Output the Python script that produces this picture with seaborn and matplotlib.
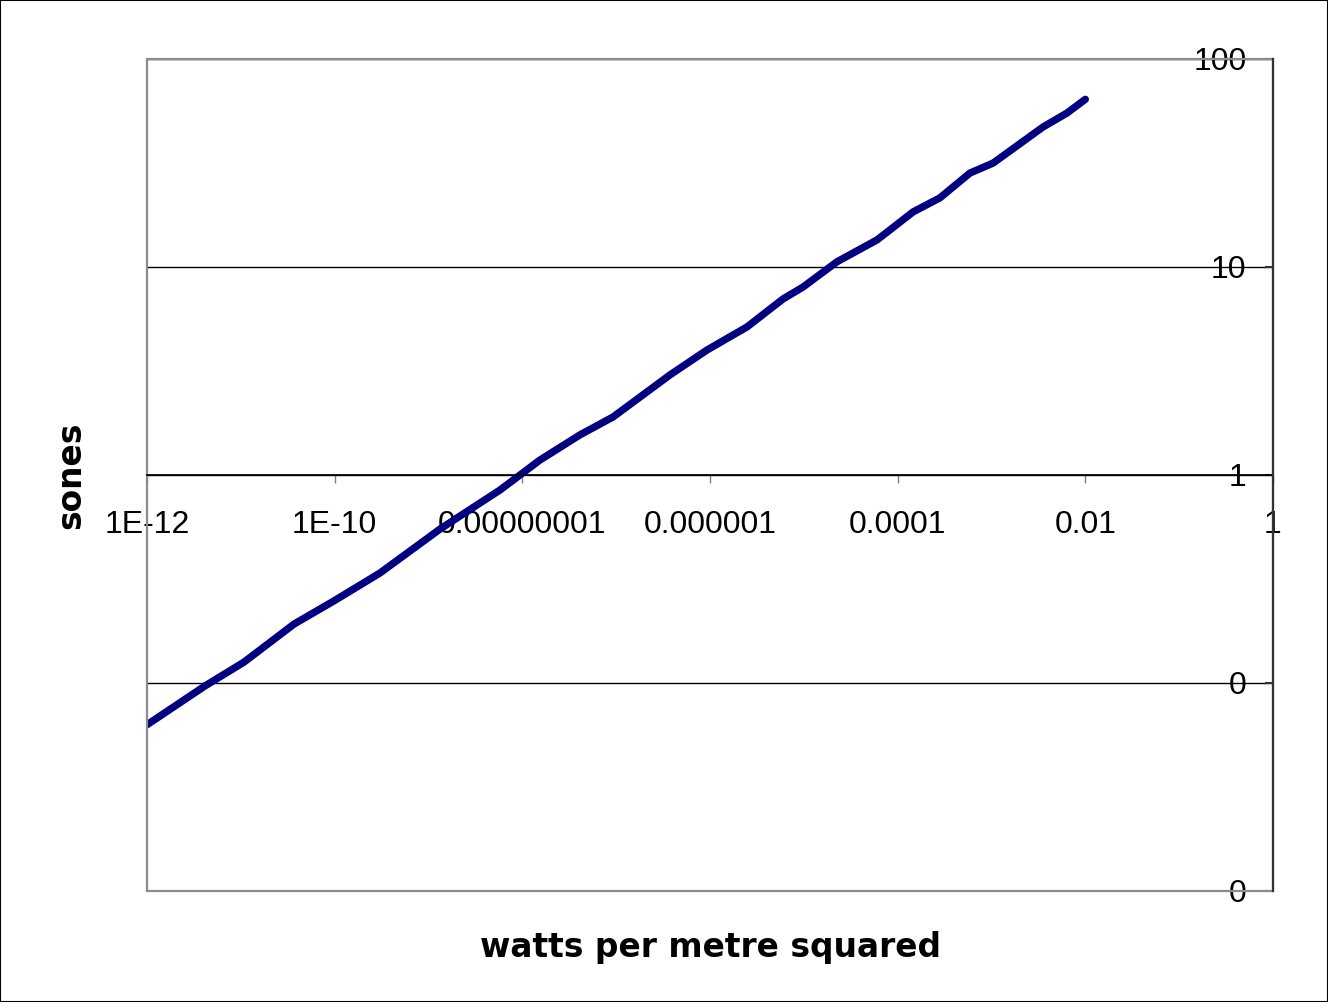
import matplotlib
matplotlib.use("Agg")
import matplotlib.pyplot as plt
from matplotlib.patches import Rectangle
from matplotlib.ticker import NullLocator
import pandas as pd
import seaborn as sns

# Data (log-log)
intensity = [1e-12, 4.15e-12, 1.08e-11, 3.69e-11, 9.8e-11, 3.04e-10, 6.35e-10,
             1.33e-9, 5.78e-9, 1.54e-8, 4.12e-8, 9.25e-8, 3.75e-7, 9.3e-7,
             2.48e-6, 6.0e-6, 9.8e-6, 2.26e-5, 6.03e-5, 1.46e-4, 2.82e-4,
             5.9e-4, 1.04e-3, 3.54e-3, 6.38e-3, 1e-2]
sones = [0.063, 0.0968, 0.126, 0.192, 0.248, 0.338, 0.431,
         0.55, 0.847, 1.18, 1.56, 1.9, 3.03, 3.99,
         5.15, 7.02, 8.01, 10.6, 13.5, 18.4, 21.5,
         28.3, 31.6, 47.1, 55.0, 64.0]

x_ticks = [1e-12, 1e-10, 1e-8, 1e-6, 1e-4, 1e-2, 1]
x_tick_labels = ['1E-12', '1E-10', '0.00000001', '0.000001', '0.0001', '0.01', '1']
y_ticks = [0.01, 0.1, 1, 10, 100]
y_tick_labels = ['0', '0', '1', '10', '100']

x_title = 'watts per metre squared'
y_title = 'sones'

sns.set_style('white')
plt.rcParams['font.family'] = ['Liberation Sans', 'DejaVu Sans']
plt.rcParams['text.color'] = 'black'
plt.rcParams['axes.labelcolor'] = 'black'
plt.rcParams['xtick.color'] = 'black'
plt.rcParams['ytick.color'] = 'black'

W, H = 1328, 1002
fig = plt.figure(figsize=(W / 100, H / 100), dpi=100)
L, R, T, B = 147, 1273, 59, 891
ax = fig.add_axes([L / W, 1 - B / H, (R - L) / W, (B - T) / H])

df = pd.DataFrame({'intensity': intensity, 'sones': sones})
sns.lineplot(data=df, x='intensity', y='sones', ax=ax, color='#000080',
             linewidth=5.3, sort=False, estimator=None,
             solid_capstyle='round', solid_joinstyle='round', zorder=2)

ax.set_xscale('log')
ax.set_yscale('log')
ax.set_xlim(1e-12, 1)
ax.set_ylim(0.01, 100)

# spines: x axis crosses at y = 1, value axis on the right
ax.spines['bottom'].set_position(('data', 1))
ax.spines['bottom'].set_color('black')
ax.spines['bottom'].set_linewidth(1.2)
ax.spines['left'].set_visible(False)
ax.spines['top'].set_visible(False)
ax.spines['right'].set_color('#333333')
ax.spines['right'].set_linewidth(1.6)
ax.spines['right'].set_zorder(3)

ax.set_xticks(x_ticks, x_tick_labels)
ax.set_yticks(y_ticks, y_tick_labels)
ax.xaxis.set_minor_locator(NullLocator())
ax.yaxis.set_minor_locator(NullLocator())

# grid
ax.yaxis.grid(True, color='black', linewidth=1)
ax.xaxis.grid(False)

# plot-area border
ax.add_patch(Rectangle((0, 0), 1, 1, transform=ax.transAxes, fill=False,
                       edgecolor='#8c8c8c', linewidth=1.6, zorder=2.4,
                       clip_on=False))

ax.tick_params(axis='x', which='major', direction='out', length=6, width=1,
               color='#808080', pad=19.5, labelcolor='black', labelsize=23,
               bottom=True, top=False)
ax.tick_params(axis='y', which='major', direction='in', length=6, width=1.5,
               color='#333333', left=False, right=True, labelsize=23,
               labelcolor='black', labelleft=False, labelright=True, pad=-19)
for lbl in ax.get_yticklabels():
    lbl.set_ha('right')

ax.set_xlabel(x_title, fontsize=23.7, fontweight='bold', family='DejaVu Sans',
              color='black')
ax.xaxis.set_label_coords(0.5, (B - 948) / (B - T))
ax.xaxis.label.set_va('center')

ax.yaxis.set_label_position('left')
ax.set_ylabel(y_title, fontsize=23.7, fontweight='bold', family='DejaVu Sans',
              color='black')
ax.yaxis.set_label_coords((71 - L) / (R - L), 0.5)
ax.yaxis.label.set_va('center')

fig.add_artist(Rectangle((0, 0), 1, 1, transform=fig.transFigure, fill=False,
                         edgecolor='black', linewidth=1.5))

fig.savefig('out.png', dpi=100)
